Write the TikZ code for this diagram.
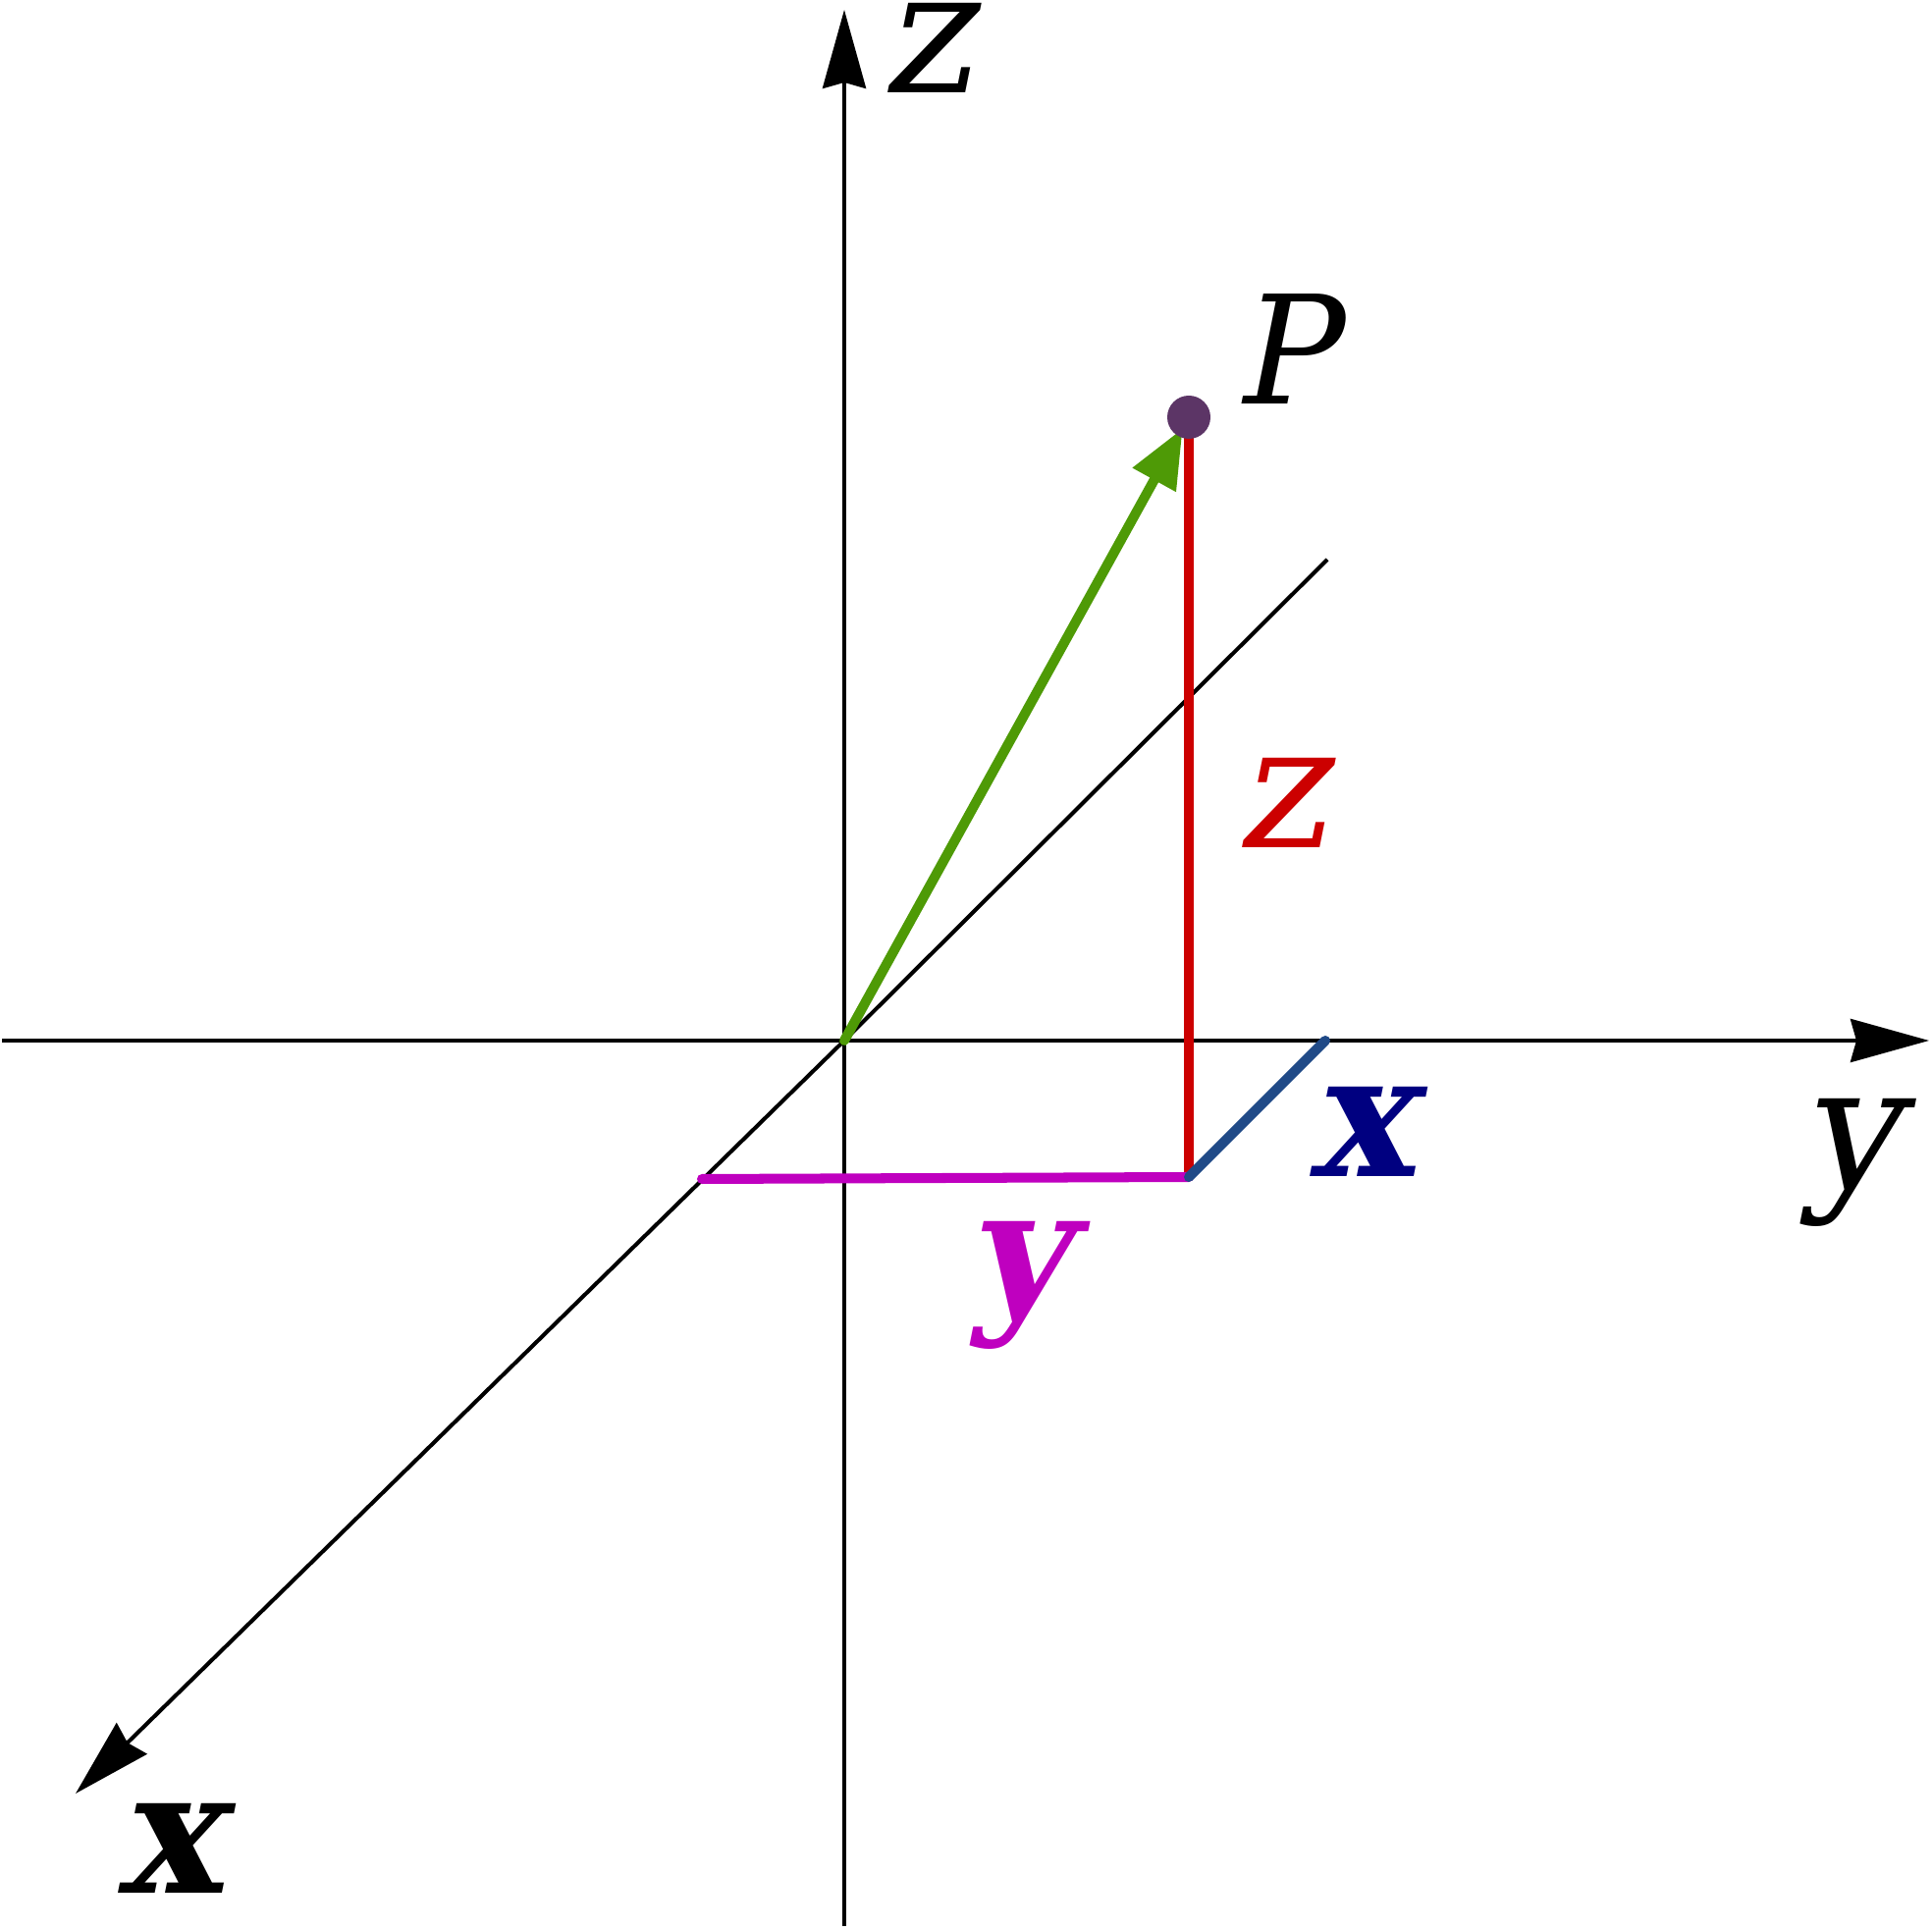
\documentclass[tikz,border=0pt]{standalone}
\usepackage{fontspec}
\setmainfont{DejaVu Serif}
\newfontfamily\slantfont[FakeSlant=0.2]{DejaVu Serif}
\usetikzlibrary{arrows.meta}
\definecolor{vecgreen}{HTML}{4E9A06}
\definecolor{partred}{HTML}{CC0000}
\definecolor{partmagenta}{HTML}{BF00BF}
\definecolor{partblue}{HTML}{204A87}
\definecolor{labnavy}{HTML}{000080}
\definecolor{pointplum}{HTML}{5C3566}
\begin{document}
\begin{tikzpicture}[line width=1.15pt,
  axis/.style={-{Stealth[length=0.8cm,width=0.44cm,inset=0.06cm]}},
  part/.style={line width=2.85pt, line cap=round},
  lab/.style={inner sep=0pt, font=\fontsize{50}{60}\selectfont\slantfont},
  boldlab/.style={inner sep=0pt, font=\fontsize{50}{60}\selectfont\slantfont\bfseries}]
\useasboundingbox (0,0) rectangle (19.68,19.65);

\coordinate (O) at (8.60,9.05);
\coordinate (zbot) at (8.60,0.03);
\coordinate (ztop) at (8.60,19.55);
\coordinate (yleft) at (0.02,9.05);
\coordinate (yright) at (19.65,9.05);
\coordinate (xback) at (13.52,13.95);
\coordinate (xfront) at (0.77,1.38);

  \draw [axis] (zbot) -- (ztop);
  \draw [axis] (yleft) -- (yright);
  \draw (xback) -- (O);
  \draw [axis] (O) -- (xfront);

\node [lab] (zaxis) at (9.44,19.16) {z};
\node [lab] (yaxis) at (18.85,7.81) {y};
\node [boldlab] (xaxis) at (1.73,0.82) {x};

\coordinate (P) at (12.11,15.40);
\coordinate (foot) at (12.11,7.66);
\coordinate (footy) at (7.15,7.64);
\coordinate (footx) at (13.50,9.05);

  \draw [part, vecgreen, -{Triangle[length=0.6cm,width=0.48cm]}, shorten >=0.13cm] (O) -- (P);
  \draw [part, partred, line cap=butt] (P) -- (foot);
  \draw [part, partmagenta] (footy) -- (foot);
  \draw [part, partblue] (foot) -- (footx);

\node [lab, partred] (zpart) at (13.05,11.47) {z};
\node [boldlab, labnavy] (xpart) at (13.87,8.12) {x};
\node [boldlab, partmagenta] (ypart) at (10.38,6.56) {y};

\node [circle, fill=pointplum, minimum size=0.44cm, inner sep=0pt] (Pdot) at (P) {};
\node [lab, font=\fontsize{43.7}{50}\selectfont\slantfont] (Plab) at (13.08,16.09) {P};

\end{tikzpicture}
\end{document}
